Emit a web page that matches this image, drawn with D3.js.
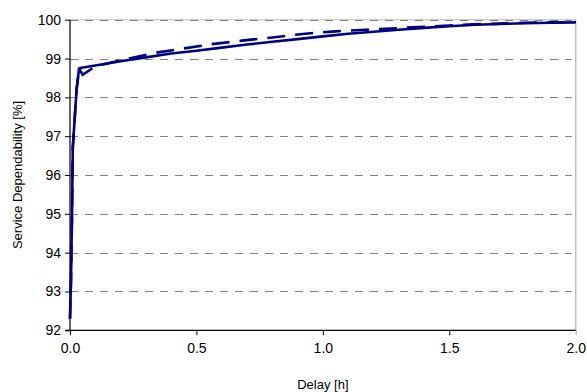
<!DOCTYPE html>
<html><head><meta charset="utf-8">
<script src="https://cdn.jsdelivr.net/npm/d3@7"></script>
<style>body{margin:0;background:#fff}svg{display:block}text{font-family:"Liberation Sans",Arial,sans-serif;fill:#000}</style>
</head><body><svg id="c" width="587" height="392"></svg>
<script>
const solidX = [0,0.004,0.008,0.011,0.018,0.026,0.036,0.045,0.1,0.2,0.3,0.4,0.5,0.6,0.7,0.8,0.9,1.0,1.1,1.2,1.3,1.4,1.5,1.6,1.7,1.8,1.9,2.0];
const solidY = [92.3,93.3,95.0,96.7,97.4,98.2,98.75,98.76,98.82,98.93,99.03,99.13,99.2,99.28,99.36,99.43,99.5,99.57,99.64,99.69,99.74,99.79,99.83,99.87,99.89,99.91,99.92,99.93];
const dashX = [0,0.004,0.008,0.011,0.018,0.026,0.036,0.05,0.1,0.2,0.33,0.44,0.56,0.68,0.81,0.93,1.05,1.17,1.29,1.4,1.5,1.6,1.7,1.8,1.9,2.0];
const dashY = [92.3,93.3,95.0,96.7,97.4,98.2,98.75,98.58,98.8,98.95,99.14,99.25,99.37,99.46,99.55,99.64,99.70,99.74,99.78,99.82,99.85,99.88,99.9,99.92,99.93,99.94];
const xTicks = [0,0.5,1.0,1.5,2.0];
const yTicks = [92,93,94,95,96,97,98,99,100];
const xLabel = "Delay [h]";
const yLabel = "Service Dependability [%]";

const svg = d3.select("#c");
const L=70, R=575.7, T=19.7, B=330.3;
const x = d3.scaleLinear().domain([0,2]).range([L,R]);
const y = d3.scaleLinear().domain([92,100]).range([B,T]);

// plot border (top/right light gray)
svg.append("line").attr("x1",L).attr("x2",R).attr("y1",T).attr("y2",T).attr("stroke","#c0c0c0").attr("stroke-width",1);
svg.append("line").attr("x1",R).attr("x2",R).attr("y1",T).attr("y2",B).attr("stroke","#c0c0c0").attr("stroke-width",1.5);
// gridlines
svg.append("g").selectAll("line").data(yTicks.filter(d=>d>92)).join("line")
  .attr("x1",L).attr("x2",R-4).attr("y1",d=>Math.round(y(d))+0.5).attr("y2",d=>Math.round(y(d))+0.5)
  .attr("stroke","#808080").attr("stroke-width",1.2).attr("stroke-dasharray","8,7");

// axes
const yAxis = d3.axisLeft(y).tickValues(yTicks).tickFormat(d3.format("d")).tickSize(5).tickPadding(4);
const gy = svg.append("g").attr("transform",`translate(${L},0)`).call(yAxis);
const xAxis = d3.axisBottom(x).tickValues(xTicks).tickFormat(d3.format(".1f")).tickSize(5).tickPadding(8);
const gx = svg.append("g").attr("transform",`translate(0,${B})`).call(xAxis);
[gx,gy].forEach(g=>{
  g.select(".domain").attr("stroke","#000").attr("stroke-width",1.2);
  g.selectAll(".tick line").attr("stroke","#000");
  g.selectAll("text").attr("font-family","Liberation Sans, Arial, sans-serif").attr("font-size",14).attr("fill","#000");
});
gy.select(".domain").attr("d",`M-5,${B}H0V${T}`);
gx.select(".domain").attr("d",`M${L},0H${R}`);
gx.selectAll(".tick").filter(d=>d===2).select("line").attr("stroke","#a0a0a0");

// lines
const line = d3.line().x(d=>x(d[0])).y(d=>y(d[1]));
const solid = solidX.map((v,i)=>[v,solidY[i]]);
const dashed = dashX.map((v,i)=>[v,dashY[i]]);
svg.append("path").attr("d",line(solid)).attr("fill","none").attr("stroke","#000080").attr("stroke-width",2.6).attr("stroke-linejoin","round");
svg.append("path").attr("d",line(dashed)).attr("fill","none").attr("stroke","#000080").attr("stroke-width",2.6).attr("stroke-dasharray","18,10");

// titles
svg.append("text").attr("x",(L+R)/2).attr("y",389).attr("text-anchor","middle").attr("font-size",13).text(xLabel);
svg.append("text").attr("transform",`translate(22,${(T+B)/2}) rotate(-90)`).attr("text-anchor","middle").attr("font-size",13).text(yLabel);
</script></body></html>
